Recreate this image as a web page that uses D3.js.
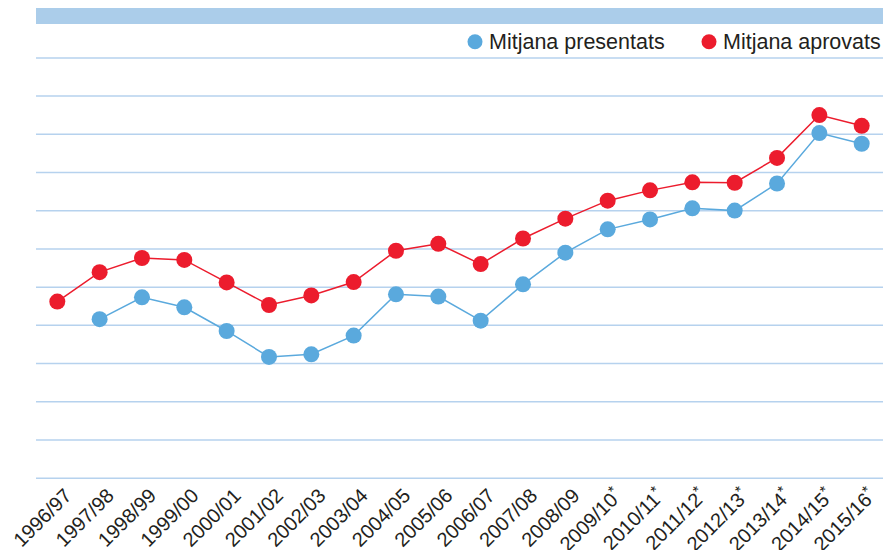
<!DOCTYPE html>
<html>
<head>
<meta charset="utf-8">
<script src="https://cdn.jsdelivr.net/npm/d3@7"></script>
<style>
	body { margin: 0; background: #fff; }
	svg { display: block; font-family: "Liberation Sans", Arial, sans-serif; }
</style>
</head>
<body>
<div id="chart"></div>
<script>
// Mitjana presentats / aprovats per curs (values in gridline units)
var cursos = ["1996/97", "1997/98", "1998/99", "1999/00", "2000/01", "2001/02", "2002/03",
	"2003/04", "2004/05", "2005/06", "2006/07", "2007/08", "2008/09", "2009/10*",
	"2010/11*", "2011/12*", "2012/13*", "2013/14*", "2014/15*", "2015/16*"];
var presentats = [null, 4.15, 4.72, 4.46, 3.84, 3.16, 3.23, 3.72, 4.80, 4.74,
	4.11, 5.06, 5.89, 6.50, 6.76, 7.05, 6.99, 7.70, 9.02, 8.74];
var aprovats = [4.61, 5.38, 5.75, 5.70, 5.11, 4.52, 4.77, 5.12, 5.94, 6.12,
	5.59, 6.26, 6.78, 7.25, 7.52, 7.73, 7.72, 8.37, 9.49, 9.21];
var yTicks = [0, 1, 2, 3, 4, 5, 6, 7, 8, 9, 10, 11];
var series = [
	{ name: "Mitjana presentats", values: presentats, color: "#5aa9dd" },
	{ name: "Mitjana aprovats", values: aprovats, color: "#ec1c2d" }
];

function line_chart(div_id) {
	var width = 883, height = 550;
	var left = 36, right = 883;

	var svg = d3.select('#' + div_id).append("svg")
		.attr("width", width)
		.attr("height", height);

	var x = d3.scalePoint()
		.domain(cursos)
		.range([57.3, 861.7]);
	var y = d3.scaleLinear()
		.domain([0, 11])
		.range([477.7, 57.4]);

	// header band
	svg.append("rect")
		.attr("x", left).attr("y", 8)
		.attr("width", right - left).attr("height", 16)
		.attr("fill", "#abcdea");

	// gridlines
	var grid = svg.append("g")
		.attr("transform", "translate(" + right + ",0)")
		.call(d3.axisLeft(y).tickValues(yTicks).tickSize(right - left).tickFormat(""));
	grid.select(".domain").remove();
	grid.selectAll("line").attr("stroke", "#b6d2ee").attr("stroke-width", 1.5);

	// x axis labels
	var xAxis = svg.append("g")
		.attr("transform", "translate(0,478)")
		.call(d3.axisBottom(x).tickSize(0).tickFormat(""));
	xAxis.select(".domain").remove();
	var lab = xAxis.selectAll(".tick").append("text")
		.attr("fill", "#231f20")
		.attr("font-size", 20)
		.attr("text-anchor", "end")
		.attr("transform", "translate(15,19) rotate(-45)");
	lab.append("tspan").text(function(d) { return d.replace("*", ""); });
	lab.filter(function(d) { return d.indexOf("*") >= 0; })
		.append("tspan")
		.attr("font-size", 15)
		.attr("dy", -7)
		.text("*");

	// lines and points
	series.forEach(function(s) {
		var pts = cursos.map(function(c, i) { return { c: c, v: s.values[i] }; })
			.filter(function(d) { return d.v != null; });
		svg.append("path")
			.datum(pts)
			.attr("fill", "none")
			.attr("stroke", s.color)
			.attr("stroke-width", 1.5)
			.attr("d", d3.line()
				.x(function(d) { return x(d.c); })
				.y(function(d) { return y(d.v); }));
		svg.selectAll(null)
			.data(pts)
			.enter().append("circle")
			.attr("cx", function(d) { return x(d.c); })
			.attr("cy", function(d) { return y(d.v); })
			.attr("r", 8)
			.attr("fill", s.color);
	});

	// legend
	var legX = [475, 709];
	var leg = svg.selectAll(".leg")
		.data(series)
		.enter().append("g")
		.attr("class", "leg")
		.attr("transform", function(d, i) { return "translate(" + legX[i] + ",41.7)"; });
	leg.append("circle").attr("r", 7.5).attr("fill", function(d) { return d.color; });
	leg.append("text")
		.attr("x", 14).attr("y", 7.7)
		.attr("font-size", 21.5)
		.attr("fill", "#231f20")
		.text(function(d) { return d.name; });
} // line_chart

line_chart("chart");
</script>
</body>
</html>
